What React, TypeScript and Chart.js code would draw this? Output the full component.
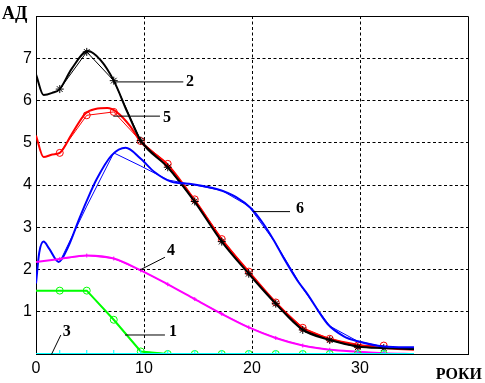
import React, { useEffect, useRef } from "react";
import { Chart, registerables } from "chart.js";

Chart.register(...registerables);

// Marker ages (shared by all curves)
const MARKER_X = [2.2, 4.7, 7.2, 9.7, 12.2, 14.7, 17.2, 19.7, 22.2, 24.7, 27.2, 29.8, 32.2];

// Curve 1 (green)
const C1_X = [0, 2.2, 4.7, 7.2, 9.7, 12.2, 35];
const C1_Y = [1.5, 1.5, 1.5, 0.81, 0.06, 0, 0];
const C1_M = [1.5, 1.5, 0.81, 0.06, 0, 0, 0, 0, 0, 0, 0, 0, 0];

// Curve 2 (black)
const C2_X = [0, 0.7, 1.5, 2.2, 3.3, 4.8, 6, 7.2, 8.5, 9.7, 12.2, 14.7, 17.2, 19.7, 22.2, 24.7, 27.2, 29.8, 32.2, 35];
const C2_Y = [6.62, 6.13, 6.18, 6.27, 6.75, 7.17, 6.95, 6.47, 5.7, 5.05, 4.42, 3.6, 2.66, 1.9, 1.19, 0.57, 0.33, 0.18, 0.14, 0.12];
const C2_M = [6.27, 7.15, 6.47, 5.05, 4.42, 3.61, 2.66, 1.9, 1.19, 0.57, 0.33, 0.16, 0.14];

// Curve 3 (cyan)
const C3_X = [0, 35];
const C3_Y = [0, 0];
const C3_M = [0, 0, 0, 0, 0, 0, 0, 0, 0, 0, 0, 0, 0];

// Curve 4 (magenta)
const C4_X = [0, 2.2, 4.7, 7.2, 9.7, 12.2, 14.7, 17.2, 19.7, 22.2, 24.7, 27.2, 29.8, 32.2, 35];
const C4_Y = [2.18, 2.25, 2.33, 2.26, 1.98, 1.65, 1.3, 0.95, 0.63, 0.38, 0.2, 0.1, 0.055, 0.02, 0];
const C4_M = [2.25, 2.33, 2.26, 1.98, 1.65, 1.3, 0.95, 0.63, 0.38, 0.2, 0.1, 0.055, 0.02];

// Curve 5 (red)
const C5_X = [0, 0.7, 1.5, 2.2, 3.3, 4.6, 5.5, 6.6, 7.5, 8.7, 9.7, 12.2, 14.7, 17.2, 19.7, 22.2, 24.7, 27.2, 29.8, 32.2, 35];
const C5_Y = [5.17, 4.66, 4.72, 4.76, 5.2, 5.7, 5.8, 5.82, 5.72, 5.4, 5.02, 4.48, 3.64, 2.72, 1.95, 1.22, 0.62, 0.36, 0.22, 0.14, 0.1];
const C5_M = [4.76, 5.65, 5.73, 5.04, 4.5, 3.66, 2.72, 1.95, 1.22, 0.62, 0.36, 0.2, 0.2];

// Curve 6 (blue)
const C6_X = [0, 0.3, 0.7, 1.2, 2.1, 3, 4, 5, 5.6, 7, 8.3, 9.7, 11, 12.5, 14.5, 16.8, 18.5, 19.9, 21, 22, 23, 24.2, 25.1, 27, 28.5, 29.8, 32.2, 35];
const C6_Y = [1.67, 2.4, 2.66, 2.5, 2.18, 2.55, 3.2, 3.8, 4.13, 4.7, 4.88, 4.62, 4.3, 4.08, 4.02, 3.9, 3.72, 3.45, 3.1, 2.7, 2.24, 1.74, 1.43, 0.71, 0.42, 0.3, 0.18, 0.16];
const C6_M = [2.18, 3.5, 4.76, 4.45, 4.12, 4.0, 3.87, 3.5, 2.62, 1.55, 0.66, 0.3, 0.17];

// Tick labels
const X_TICKS = [0, 10, 20, 30];
const Y_TICKS = [1, 2, 3, 4, 5, 6, 7];

// Curve labels: [text, lineStartX, lineStartY, lineEndX, lineEndY, textX, textY]
const LABELS: [string, number, number, number, number, number, number][] = [
  ["2", 7.16, 6.44, 13.64, 6.44, 14.26, 6.43],
  ["5", 7.16, 5.63, 11.48, 5.63, 12.13, 5.6],
  ["6", 20.12, 3.37, 23.52, 3.37, 24.44, 3.43],
  ["4", 9.63, 1.99, 11.94, 2.29, 12.5, 2.44],
  ["1", 8.24, 0.45, 11.94, 0.45, 12.69, 0.52],
  ["3", 1.45, 0, 2.3, 0.45, 2.85, 0.52],
];

const zip = (xs: number[], ys: number[]) => xs.map((x, i) => ({ x, y: ys[i] }));

const thick = (xs: number[], ys: number[], color: string, smooth = true) => ({
  data: zip(xs, ys),
  borderColor: color,
  borderWidth: 2,
  pointRadius: 0,
  fill: false,
  tension: smooth ? 0.4 : 0,
  cubicInterpolationMode: smooth ? "monotone" : "default",
});

const thin = (ys: number[], color: string, style: any, radius: number, rotation = 0) => ({
  data: zip(MARKER_X, ys),
  borderColor: color,
  borderWidth: 1,
  pointStyle: style,
  pointRadius: radius,
  pointRotation: rotation,
  pointBorderColor: color,
  pointBackgroundColor: "rgba(0,0,0,0)",
  pointBorderWidth: 1,
  fill: false,
  tension: 0,
});

const overlay = {
  id: "overlay",
  afterDraw(chart: any) {
    const ctx = chart.ctx;
    const xs = chart.scales.x;
    const ys = chart.scales.y;
    const a = chart.chartArea;
    ctx.save();
    ctx.strokeStyle = "#000";
    ctx.lineWidth = 1;
    ctx.setLineDash([]);
    ctx.beginPath();
    const t = Math.round(a.top) + 0.5;
    const r = Math.round(a.right) + 0.5;
    ctx.moveTo(Math.round(a.left) + 0.5, t);
    ctx.lineTo(r, t);
    ctx.lineTo(r, Math.round(a.bottom) + 0.5);
    ctx.stroke();

    ctx.fillStyle = "#000";
    ctx.font = "bold 16px 'Liberation Serif'";
    ctx.textAlign = "center";
    ctx.textBaseline = "middle";
    for (const [txt, x1, y1, x2, y2, tx, ty] of LABELS) {
      ctx.beginPath();
      ctx.moveTo(xs.getPixelForValue(x1), ys.getPixelForValue(y1));
      ctx.lineTo(xs.getPixelForValue(x2), ys.getPixelForValue(y2));
      ctx.stroke();
      ctx.fillText(txt, xs.getPixelForValue(tx), ys.getPixelForValue(ty));
    }
    ctx.font = "bold 18px 'Liberation Serif'";
    ctx.textAlign = "left";
    ctx.textBaseline = "alphabetic";
    ctx.fillText("АД", 2, 18.5);
    ctx.font = "bold 16px 'Liberation Serif'";
    ctx.textAlign = "right";
    ctx.fillText("РОКИ", 482, 378.5);
    ctx.restore();
  },
};

export default function App() {
  const ref = useRef<HTMLCanvasElement>(null);
  useEffect(() => {
    const datasets: any[] = [
      thick(C3_X, C3_Y, "#00ffff", false),
      thin(C3_M, "#00ffff", "line", 4, 90),
      thick(C1_X, C1_Y, "#00ff00", false),
      thin(C1_M, "#00ff00", "circle", 3.5),
      thick(C4_X, C4_Y, "#ff00ff"),
      thin(C4_M, "#ff00ff", "cross", 2),
      thick(C6_X, C6_Y, "#0000ff"),
      thin(C6_M, "#0000ff", "circle", 0),
      thick(C2_X, C2_Y, "#000000"),
      thin(C2_M, "#000000", "star", 4),
      thick(C5_X, C5_Y, "#ff0000"),
      thin(C5_M, "#ff0000", "circle", 3.5),
    ];
    const chart = new Chart(ref.current!, {
      type: "line",
      data: { datasets },
      plugins: [overlay],
      options: {
        animation: false,
        responsive: false,
        devicePixelRatio: 1,
        layout: { padding: { left: 0, top: 16, right: 17, bottom: 0 } },
        plugins: { legend: { display: false }, tooltip: { enabled: false } },
        scales: {
          x: {
            type: "linear",
            min: 0,
            max: 40,
            afterFit: (s: any) => { s.height = 29; },
            afterBuildTicks: (s: any) => { s.ticks = [...X_TICKS, 40].map((v) => ({ value: v })); },
            ticks: {
              color: "#000",
              font: { family: "'Liberation Sans'", size: 16 },
              padding: 5,
              maxRotation: 0,
              callback: (v: any) => (X_TICKS.includes(Number(v)) ? String(v) : ""),
            },
            grid: {
              drawTicks: false,
              color: (c: any) => (c.tick && (c.tick.value === 0 || c.tick.value === 40) ? "rgba(0,0,0,0)" : "#000"),
              lineWidth: 1,
            },
            border: { display: true, color: "#000", width: 1, dash: [3, 2.5] },
          },
          y: {
            min: 0,
            max: 8,
            afterFit: (s: any) => { s.width = 36; },
            afterBuildTicks: (s: any) => { s.ticks = [0, ...Y_TICKS, 8].map((v) => ({ value: v })); },
            ticks: {
              color: "#000",
              font: { family: "'Liberation Sans'", size: 16 },
              padding: 4,
              callback: (v: any) => (Y_TICKS.includes(Number(v)) ? String(v) : ""),
            },
            grid: {
              drawTicks: false,
              color: (c: any) => (c.tick && (c.tick.value === 0 || c.tick.value === 8) ? "rgba(0,0,0,0)" : "#000"),
              lineWidth: 1,
            },
            border: { display: true, color: "#000", width: 1, dash: [3, 2.5] },
          },
        },
      },
    } as any);
    return () => chart.destroy();
  }, []);
  return (
    <div style={{ position: "absolute", left: 0, top: 0, width: 485, height: 383, background: "#fff" }}>
      <canvas ref={ref} width={485} height={383} style={{ display: "block" }} />
    </div>
  );
}
